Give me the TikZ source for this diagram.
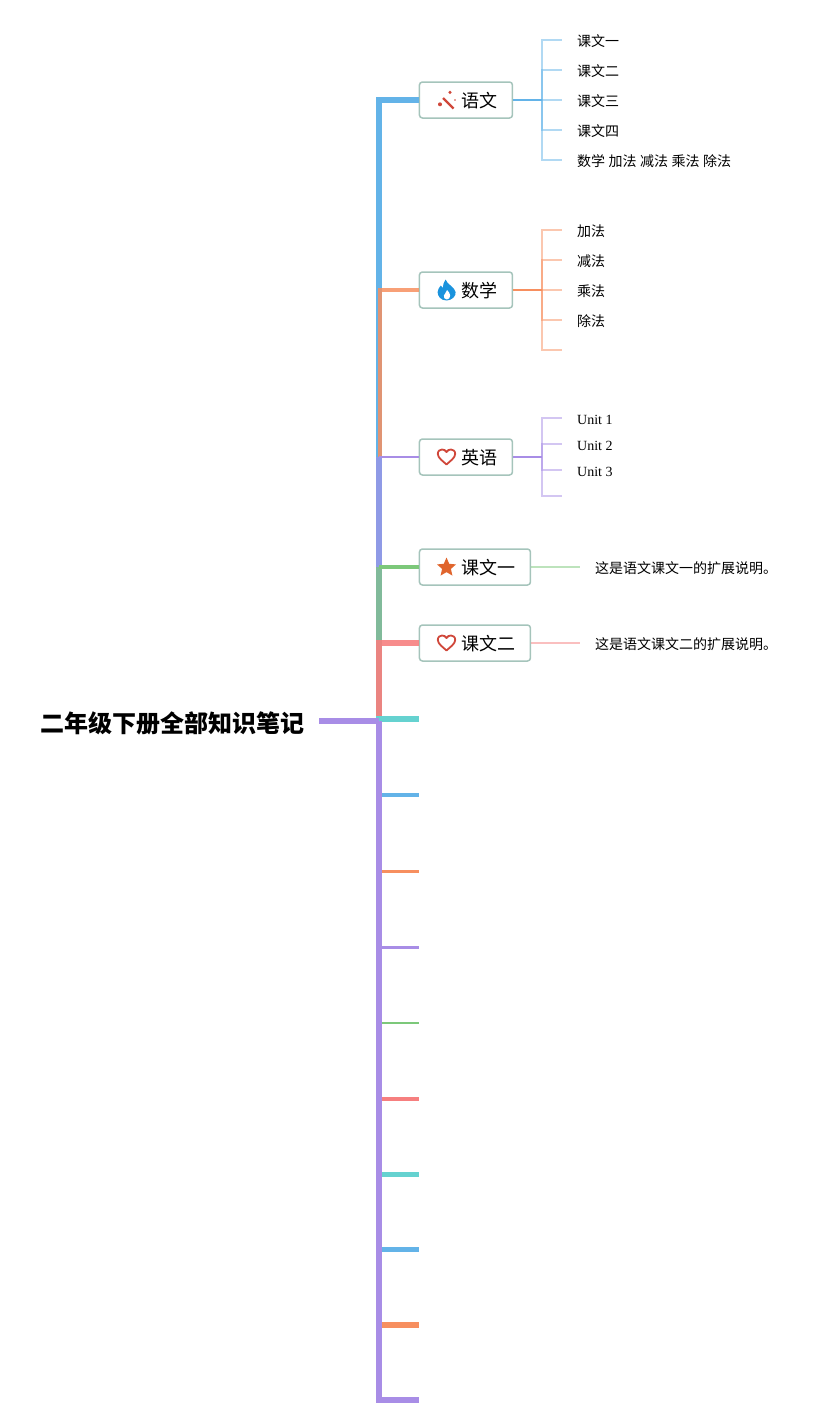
\documentclass[tikz,border=0pt]{standalone}
\usepackage{fontspec}
\setmainfont{Liberation Serif}
\newfontfamily\cjk[WordSpace=1.12]{Noto Sans CJK SC}
\definecolor{cblue}{HTML}{63B3E8}
\definecolor{corange}{HTML}{F78F5F}
\definecolor{cpurple}{HTML}{A88DE6}
\definecolor{cgreen}{HTML}{7CC87A}
\definecolor{cred}{HTML}{F67F7F}
\definecolor{cteal}{HTML}{65D2D0}
\definecolor{cframe}{HTML}{A5C4BB}
\definecolor{iconred}{HTML}{D0473A}
\definecolor{iconblue}{HTML}{1A93DD}
\definecolor{iconorange}{HTML}{E0652D}
\tikzset{
  heart/.pic={\draw[iconred, line width=1.8pt, line join=round] (0,7.5) .. controls (-3,4.5) and (-8.7,1) .. (-8.7,-3) .. controls (-8.7,-6.2) and (-6.5,-7.5) .. (-4.5,-7.5) .. controls (-2.5,-7.5) and (-1,-6.7) .. (0,-5) .. controls (1,-6.7) and (2.5,-7.5) .. (4.5,-7.5) .. controls (6.5,-7.5) and (8.7,-6.2) .. (8.7,-3) .. controls (8.7,1) and (3,4.5) .. (0,7.5) -- cycle;},
  fivestar/.pic={\fill[iconorange] (0,-10) -- (2.7,-3.7) -- (9.5,-3.1) -- (4.4,1.4) -- (5.9,8.1) -- (0,4.6) -- (-5.9,8.1) -- (-4.4,1.4) -- (-9.5,-3.1) -- (-2.7,-3.7) -- cycle;},
  flame/.pic={\fill[iconblue] (0,10.5) .. controls (-6,10.5) and (-9,6) .. (-9,2) .. controls (-9,-1) and (-7,-2.5) .. (-5.8,-4.5) .. controls (-5,-3) and (-4.5,-2.5) .. (-3.8,-2) .. controls (-3.5,-5) and (-3,-8) .. (-1,-10.5) .. controls (0,-6) and (8,-3) .. (9,2) .. controls (9.8,6) and (5,10.5) .. (0,10.5) -- cycle;
    \fill[white] (0.3,9.5) .. controls (-2,9.5) and (-3.2,7.5) .. (-2.7,5.5) .. controls (-2.2,3.5) and (0,2.5) .. (0.5,0) .. controls (2,2) and (3.6,3.5) .. (3.6,5.5) .. controls (3.6,7.5) and (2.3,9.5) .. (0.3,9.5) -- cycle;},
  wand/.pic={\draw[iconred, line width=2.4pt] (-3.5,-2) -- (7,8.5);
    \fill[iconred] (3.5,-7.7) circle (1.7pt);
    \fill[iconred] (-6.5,4.3) circle (2pt);
    \fill[iconred] (8.5,0) circle (0.8pt);}
}
\begin{document}
\begin{tikzpicture}[x=1pt,y=-1pt,
        root/.style = {anchor=east, inner xsep=14pt, inner ysep=0pt, font=\fontsize{24}{28}\selectfont\bfseries\cjk},
        branch/.style = {draw=cframe, line width=1.5pt, rounded corners=3pt, fill=white, anchor=west, inner xsep=14.5pt, minimum height=36pt, inner ysep=0pt, text height=15.8pt, text depth=0.2pt, font=\fontsize{18}{22}\selectfont\cjk},
        leaf/.style = {anchor=west, inner xsep=15pt, inner ysep=0pt, font=\fontsize{14}{16}\selectfont\cjk},
        unit/.style = {leaf, font=\fontsize{14}{16}\selectfont},
        twig/.style = {line width=1.8pt, opacity=0.5}]
        \useasboundingbox (0,0) rectangle (837,1425);
        \node[root] (root) at (319,723) {二年级下册全部知识笔记};
        \coordinate (hub) at (379,721);
        \coordinate (hubr) at (380,721);
        \node[branch] (yuwen) at (418.7,100) {\hspace{28pt}语文\hspace{-1pt}};
        \node[branch] (shuxue) at (418.7,290) {\hspace{28pt}数学\hspace{-1pt}};
        \node[branch] (yingyu) at (418.7,457) {\hspace{28pt}英语\hspace{-1pt}};
        \node[branch] (one) at (418.7,567) {\hspace{28pt}课文一\hspace{-1pt}};
        \node[branch] (two) at (418.7,643) {\hspace{28pt}课文二\hspace{-1pt}};
        \pic at ([xshift=27.8pt]yuwen.west) {wand};
        \pic at ([xshift=27.9pt]shuxue.west) {flame};
        \pic at ([xshift=27.8pt]yingyu.west) {heart};
        \pic at ([xshift=27.8pt,yshift=-0.5pt]one.west) {fivestar};
        \pic at ([xshift=27.8pt]two.west) {heart};
        % first leaves
        \coordinate (j1) at (542,100);
        \node[leaf] (y1) at (562,41) {课文一};
        \node[leaf] (y2) at (562,71) {课文二};
        \node[leaf] (y3) at (562,101) {课文三};
        \node[leaf] (y4) at (562,131) {课文四};
        \node[leaf] (y5) at (562,161) {数学 加法 减法 乘法 除法};
        \coordinate (j2) at (542,290);
        \node[leaf] (s1) at (562,231) {加法};
        \node[leaf] (s2) at (562,261) {减法};
        \node[leaf] (s3) at (562,291) {乘法};
        \node[leaf] (s4) at (562,321) {除法};
        \coordinate (s5) at (562,350);
        \coordinate (j3) at (542,457);
        \node[unit] (e1) at (562,419.5) {Unit 1};
        \node[unit] (e2) at (562,445.5) {Unit 2};
        \node[unit] (e3) at (562,471.5) {Unit 3};
        \coordinate (e4) at (562,496);
        \node[leaf] (n1) at (580,568) {这是语文课文一的扩展说明。};
        \node[leaf] (n2) at (580,644) {这是语文课文二的扩展说明。};
        % empty stubs
        \coordinate (t1) at (419,719);
        \coordinate (t2) at (419,795);
        \coordinate (t3) at (419,871);
        \coordinate (t4) at (419,947);
        \coordinate (t5) at (419,1023);
        \coordinate (t6) at (419,1099);
        \coordinate (t7) at (419,1174.5);
        \coordinate (t8) at (419,1249);
        \coordinate (t9) at (419,1324.5);
        \coordinate (t10) at (419,1399.5);
        % upper trunk
        \draw[cblue, line width=6pt] (hub) |- (yuwen.west);
        \draw[corange, line width=3.2pt, opacity=0.85] (hubr |- yingyu.west) |- (shuxue.west);
        \draw[cpurple, line width=6pt, opacity=0.65] (hub) -- (hub |- yingyu.west);
        \draw[cpurple, line width=2pt] (hub |- yingyu.west) -- (yingyu.west);
        \draw[cgreen, line width=6pt, opacity=0.7] (hub) -- (hub |- one.west);
        \draw[cgreen, line width=4pt] (hub |- one.west) -- (one.west);
        \draw[cred, line width=6pt, opacity=0.9] (hub) |- (two.west);
        % lower trunk
        \draw[cteal, line width=6pt] (hub) |- (t1);
        \draw[cblue, line width=4pt] (hub) |- (t2);
        \draw[corange, line width=3pt] (hub) |- (t3);
        \draw[cpurple, line width=3pt] (hub) |- (t4);
        \draw[cgreen, line width=2pt] (hub) |- (t5);
        \draw[cred, line width=4pt] (hub) |- (t6);
        \draw[cteal, line width=5pt] (hub) |- (t7);
        \draw[cblue, line width=5pt] (hub) |- (t8);
        \draw[corange, line width=6pt] (hub) |- (t9);
        \draw[cpurple, line width=6pt] (hub) |- (t10);
        \draw[cpurple, line width=6pt] (root.east |- hub) -- (hub);
        % leaf brackets
        \draw[cblue, line width=2pt] (yuwen.east) -- (j1);
        \draw[cblue, twig] (j1) |- (y1.west |- 0,40);
        \draw[cblue, twig] (j1) |- (y2.west |- 0,70);
        \draw[cblue, twig] (j1) -- (y3.west |- j1);
        \draw[cblue, twig] (j1) |- (y4.west |- 0,130);
        \draw[cblue, twig] (j1) |- (y5.west |- 0,160);
        \draw[corange, line width=2pt] (shuxue.east) -- (j2);
        \draw[corange, twig] (j2) |- (s1.west |- 0,230);
        \draw[corange, twig] (j2) |- (s2.west |- 0,260);
        \draw[corange, twig] (j2) -- (s3.west |- j2);
        \draw[corange, twig] (j2) |- (s4.west |- 0,320);
        \draw[corange, twig] (j2) |- (s5);
        \draw[cpurple, line width=2pt] (yingyu.east) -- (j3);
        \draw[cpurple, twig] (j3) |- (e1.west |- 0,418);
        \draw[cpurple, twig] (j3) |- (e2.west |- 0,444);
        \draw[cpurple, twig] (j3) |- (e3.west |- 0,470);
        \draw[cpurple, twig] (j3) |- (e4);
        \draw[cgreen, twig] (one.east) -- (n1.west |- one.east);
        \draw[cred, twig] (two.east) -- (n2.west |- two.east);
\end{tikzpicture}
\end{document}
